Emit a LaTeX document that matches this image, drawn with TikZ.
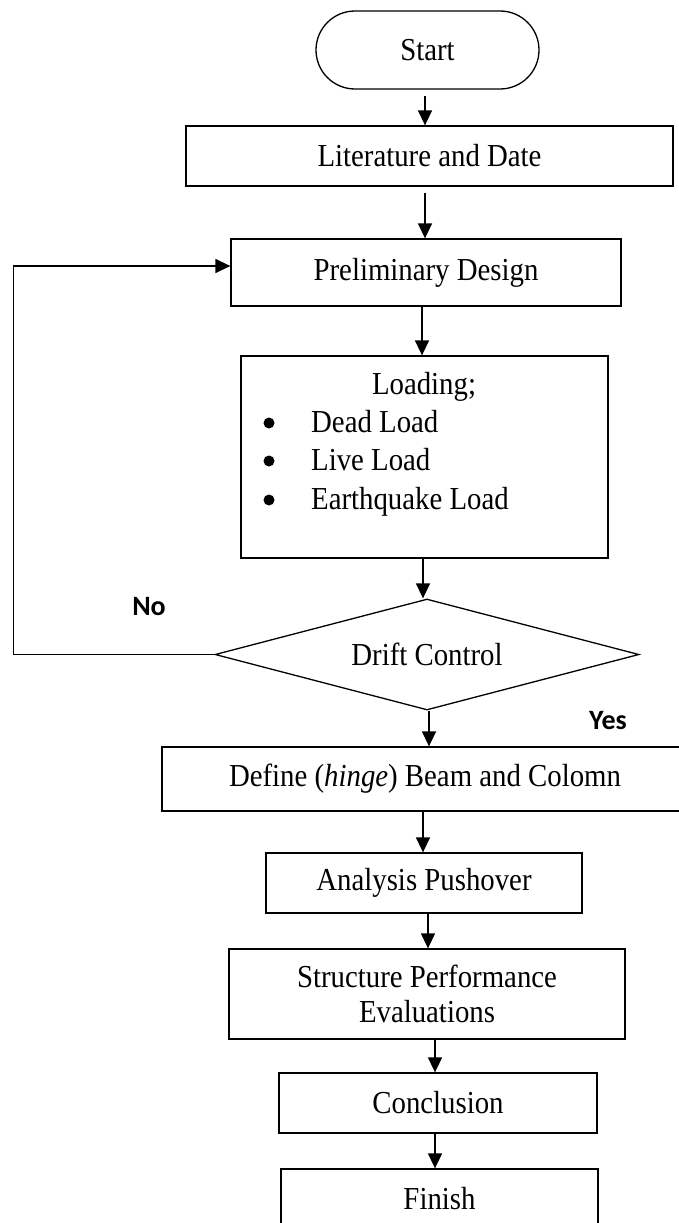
\documentclass[tikz,border=0pt]{standalone}
\usepackage{fontspec}
\setmainfont{Liberation Serif}[FakeStretch=0.9]
\newfontfamily\labfont{Carlito}
\usetikzlibrary{shapes.geometric,arrows.meta,calc}

\begin{document}
\begin{tikzpicture}[x=1pt,y=-1pt,
  txt/.style={font=\fontsize{32}{35}\selectfont,inner sep=0pt},
  bul/.style={circle,fill=black,inner sep=0pt,minimum size=11pt},
  box/.style={draw,line width=1.3pt,inner sep=0pt,align=center,font=\fontsize{32}{35}\selectfont},
  arr/.style={-{Triangle[length=15pt,width=14pt]},line width=1.6pt},
  thinline/.style={line width=0.9pt},
  yn/.style={font=\labfont\bfseries\fontsize{28}{30}\selectfont,inner sep=0pt}]
\useasboundingbox (0,0) rectangle (678,1223);

% nodes
\node[box,rounded corners=39pt,minimum width=223pt,minimum height=78pt] (start) at (427.5,50) {Start};
\node[box,minimum width=487pt,minimum height=60pt] (lit) at (429.5,156) {Literature and Date};
\node[box,minimum width=390pt,minimum height=67pt] (prelim) at (426,272.5) {Preliminary Design};
\node[box,minimum width=367pt,minimum height=202pt] (loading) at (424.5,457) {};
\node[txt,anchor=base] (loadt) at (424,394) {Loading;};
\node[bul] (b1) at (269,423) {};
\node[bul] (b2) at (269,461) {};
\node[bul] (b3) at (269,500) {};
\node[txt,anchor=base west] (l1) at (311,432.5) {Dead Load};
\node[txt,anchor=base west] (l2) at (311,470.5) {Live Load};
\node[txt,anchor=base west] (l3) at (311,509) {Earthquake Load};
\node[diamond,draw,line width=1.3pt,aspect=3.8,inner sep=0pt,minimum width=424pt,minimum height=111pt,font=\fontsize{32}{35}\selectfont] (drift) at (427,654.5) {Drift Control};
\node[box,minimum width=526pt,minimum height=64pt] (define) at (425,779) {Define (\textit{hinge}) Beam and Colomn};
\node[box,minimum width=316pt,minimum height=60pt] (analysis) at (424,883) {Analysis Pushover};
\node[box,minimum width=396pt,minimum height=90pt] (struct) at (427,994) {Structure Performance\\Evaluations};
\node[box,minimum width=318pt,minimum height=60pt] (concl) at (438,1103) {Conclusion};
\node[box,minimum width=317pt,minimum height=60pt] (finish) at (439.5,1199) {Finish};

\node[yn] (no) at (149,607) {No};
\node[yn] (yes) at (608,721) {Yes};

% connectors
\draw[arr] ([xshift=-2.5pt,yshift=-6pt]start.south) -- ([xshift=-2.5pt]start.south |- lit.north);
\draw[arr] ([xshift=-4.5pt,yshift=-6pt]lit.south) -- ([xshift=-4.5pt]lit.south |- prelim.north);
\draw[arr] ([xshift=-4pt]prelim.south) -- ([xshift=-4pt]prelim.south |- loading.north);
\draw[arr] ([xshift=-1.5pt]loading.south) -- ([xshift=-1.5pt]loading.south |- drift.north);
\draw[arr] ([xshift=2pt]drift.south) -- ([xshift=2pt]drift.south |- define.north);
\draw[arr] ([xshift=-2pt]define.south) -- ([xshift=-2pt]define.south |- analysis.north);
\draw[arr] ([xshift=4pt]analysis.south) -- ([xshift=4pt]analysis.south |- struct.north);
\draw[arr] ([xshift=8pt]struct.south) -- ([xshift=8pt]struct.south |- concl.north);
\draw[arr] ([xshift=-3pt]concl.south) -- ([xshift=-3pt]concl.south |- finish.north);

% loop back
\coordinate (loopL) at (13,653);
\coordinate (prelimIn) at ([yshift=6.5pt]prelim.west);
\draw[thinline] (drift.west) -- (drift.west -| loopL) -- (loopL |- prelimIn);
\draw[arr] (loopL |- prelimIn) -- (prelimIn);
\end{tikzpicture}
\end{document}
